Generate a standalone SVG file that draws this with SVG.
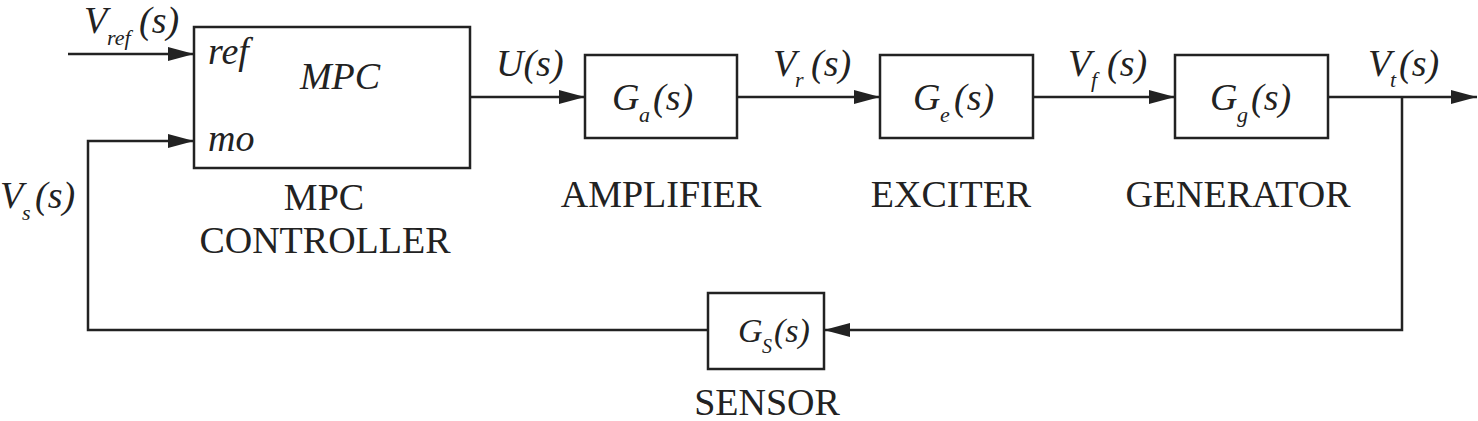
<svg xmlns="http://www.w3.org/2000/svg" width="1478" height="421" viewBox="0 0 1478 421">
<style>
.box{fill:#fff;stroke:#222;stroke-width:2.5}
.ln{fill:none;stroke:#222;stroke-width:2.5}
text{font-family:'Liberation Serif','Times New Roman','DejaVu Serif',serif;fill:#222;font-size:38px}
.i{font-style:italic}
.sub{font-size:22px}
</style>
<defs>
<marker id="ah" markerWidth="26" markerHeight="14" refX="26" refY="7" orient="auto" markerUnits="userSpaceOnUse">
<path d="M0,0 L26,7 L0,14 Z" fill="#222"/>
</marker>
</defs>
<rect width="1478" height="421" fill="#fff"/>
<g id="connectors">
<path class="ln" d="M68,54 H194" marker-end="url(#ah)"/>
<path class="ln" d="M470,97 H585" marker-end="url(#ah)"/>
<path class="ln" d="M737,97 H880" marker-end="url(#ah)"/>
<path class="ln" d="M1033,97 H1175" marker-end="url(#ah)"/>
<path class="ln" d="M1328,97 H1477" marker-end="url(#ah)"/>
<path class="ln" d="M1402,97 V330 H824" marker-end="url(#ah)"/>
<path class="ln" d="M708,330 H88 V141 H194" marker-end="url(#ah)"/>
<text class="i" x="84" y="33">V</text><text class="i sub" x="107" y="45">ref</text><text class="i" x="139" y="33">(s)</text>
<text class="i" x="496" y="76">U(s)</text>
<text class="i" x="773" y="76">V</text><text class="i sub" x="795" y="87">r</text><text class="i" x="811" y="76">(s)</text>
<text class="i" x="1068" y="76">V</text><text class="i sub" x="1091" y="87">f</text><text class="i" x="1107" y="76">(s)</text>
<text class="i" x="1368" y="76">V</text><text class="i sub" x="1390" y="87">t</text><text class="i" x="1399" y="76">(s)</text>
<text class="i" x="0" y="208">V</text><text class="i sub" x="22" y="220">s</text><text class="i" x="35" y="208">(s)</text>
</g>
<g id="mpc">
<rect class="box" x="194" y="27" width="276" height="141"/>
<text class="i" x="208" y="64">ref</text>
<text class="i" x="208" y="151">mo</text>
<text class="i" x="340" y="89" text-anchor="middle">MPC</text>
<text x="324" y="210" text-anchor="middle">MPC</text>
<text x="325" y="253" text-anchor="middle">CONTROLLER</text>
</g>
<g id="amplifier">
<rect class="box" x="585" y="55" width="152" height="83"/>
<text class="i" x="612" y="110">G</text><text class="i sub" x="639" y="122">a</text><text class="i" x="653" y="110">(s)</text>
<text x="661" y="207" text-anchor="middle">AMPLIFIER</text>
</g>
<g id="exciter">
<rect class="box" x="880" y="55" width="153" height="83"/>
<text class="i" x="913" y="110">G</text><text class="i sub" x="940" y="122">e</text><text class="i" x="954" y="110">(s)</text>
<text x="951" y="207" text-anchor="middle">EXCITER</text>
</g>
<g id="generator">
<rect class="box" x="1175" y="55" width="153" height="83"/>
<text class="i" x="1210" y="110">G</text><text class="i sub" x="1237" y="122">g</text><text class="i" x="1251" y="110">(s)</text>
<text x="1238" y="207" text-anchor="middle">GENERATOR</text>
</g>
<g id="sensor">
<rect class="box" x="708" y="293" width="116" height="76"/>
<text class="i" x="738" y="342" style="font-size:34px">G</text><text class="i sub" x="762" y="353" style="font-size:20px">S</text><text class="i" x="774" y="342" style="font-size:34px">(s)</text>
<text x="767" y="415" text-anchor="middle">SENSOR</text>
</g>
</svg>
